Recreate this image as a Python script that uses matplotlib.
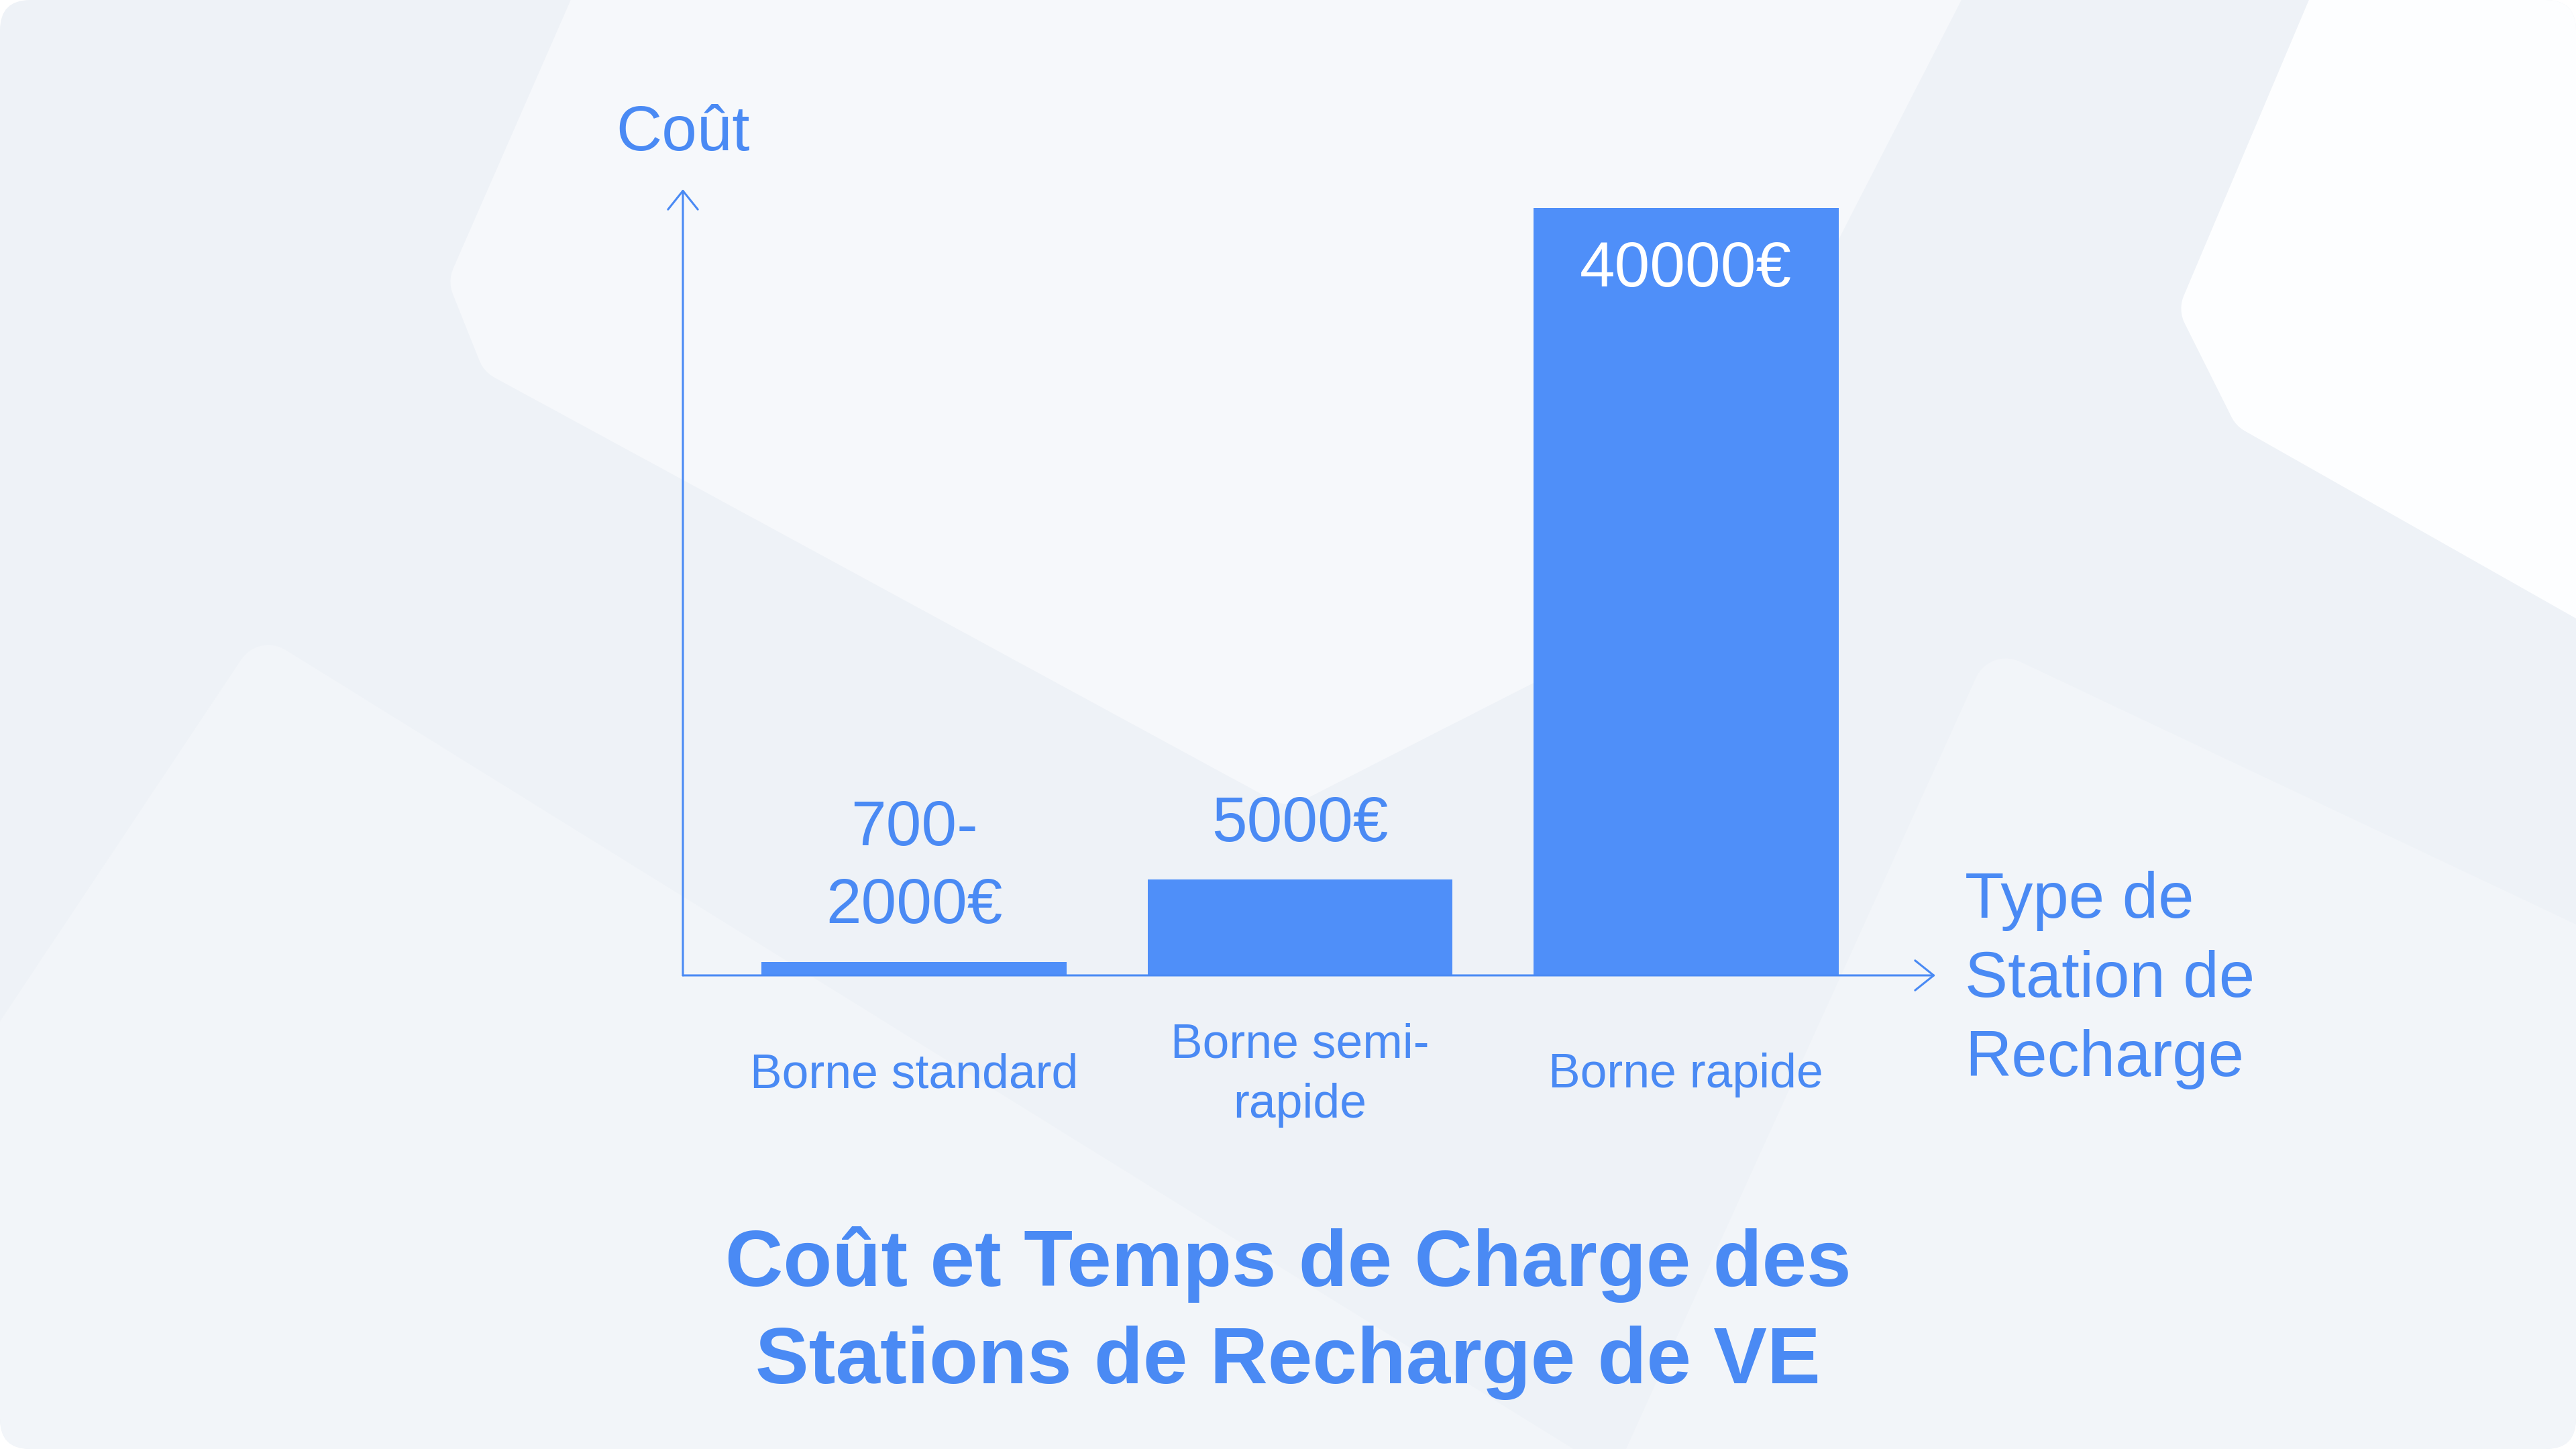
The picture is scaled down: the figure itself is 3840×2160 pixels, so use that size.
import matplotlib
matplotlib.use("Agg")
import matplotlib.pyplot as plt
from matplotlib.patches import FancyBboxPatch, Polygon

plt.rcParams["font.family"] = ["Liberation Sans", "DejaVu Sans"]

# chart data
categories = ["Borne standard", "Borne semi-\nrapide", "Borne rapide"]
costs = [700, 5000, 40000]
cost_labels = ["700-\n2000€", "5000€", "40000€"]
y_title = "Coût"
x_title = "Type de\nStation de\nRecharge"
title = "Coût et Temps de Charge des\nStations de Recharge de VE"

BLUE = "#4A8AF4"
BAR = "#4F8FF9"
BASE = "#EEF2F7"
LIGHT = "#F6F8FB"
W, H = 3840, 2160

fig = plt.figure(figsize=(W / 100, H / 100), dpi=100, facecolor="white")

# soft decorative background (pixel space)
bg = fig.add_axes([0, 0, 1, 1], zorder=-10)
bg.set_xlim(0, W)
bg.set_ylim(H, 0)
bg.axis("off")
card = FancyBboxPatch((0, 0), W, H, boxstyle="round,pad=0,rounding_size=45",
                      fc=BASE, ec="none")
bg.add_patch(card)
shapes = [
    ([(930, -60), (2900, -60), (2700, 330), (2450, 880), (1920, 1150), (760, 520),
      (720, 420)], LIGHT),
    ([(3520, -60), (3900, -60), (3900, 900), (3370, 600), (3300, 460)], "#FDFEFF"),
    ([(-60, 1700), (400, 1010), (2350, 2220), (-60, 2220)], "#F2F5F9"),
    ([(2450, 2220), (2990, 1030), (3900, 1460), (3900, 2220)], "#F2F5F9"),
]
for pts, col in shapes:
    # a fat edge with round joins softens the corners
    p = Polygon(pts, closed=True, fc=col, ec=col, lw=70, joinstyle="round")
    bg.add_patch(p)
    p.set_clip_path(card)

# main chart
ax = fig.add_axes([1018 / W, 1 - 1454 / H, (2885 - 1018) / W, (1454 - 282) / H])
ax.patch.set_alpha(0)
x = list(range(len(categories)))
ax.bar(x, costs, width=0.79, color=BAR, zorder=2)
x0, x1 = -0.599, 2.646
y1 = 40980
ax.set_xlim(x0, x1)
ax.set_ylim(0, y1)
for s in ax.spines.values():
    s.set_visible(False)
ax.set_yticks([])
ax.set_xticks(x, categories)
ax.tick_params(axis="x", length=0, pad=107, labelsize=51.5, labelcolor=BLUE)
for lab in ax.get_xticklabels():
    lab.set_va("center")
    lab.set_linespacing(1.42)

arrow = dict(arrowstyle="->,head_length=0.5,head_width=0.4", color=BLUE, lw=2.2,
             shrinkA=0, shrinkB=0, mutation_scale=40)
ax.annotate("", xy=(x1, 0), xytext=(x0, 0), arrowprops=arrow, annotation_clip=False)
ax.annotate("", xy=(x0, y1), xytext=(x0, 0), arrowprops=arrow, annotation_clip=False)

for i, (v, lab) in enumerate(zip(costs, cost_labels)):
    if v == max(costs):
        ax.annotate(lab, (i, v), xytext=(0, -84), textcoords="offset points",
                    ha="center", va="baseline", color="white", fontsize=68)
    else:
        ax.annotate(lab, (i, v), xytext=(0, 27), textcoords="offset points",
                    ha="center", va="bottom", color=BLUE, fontsize=68, linespacing=1.40)

ax.annotate(y_title, (x0, y1), xytext=(0, 42), textcoords="offset points",
            ha="center", va="baseline", color=BLUE, fontsize=68, annotation_clip=False)
ax.annotate(x_title, (x1, 0), xytext=(32, -5), textcoords="offset points",
            ha="left", va="center", color=BLUE, fontsize=69, linespacing=1.40,
            annotation_clip=False)

fig.text(0.5, 1 - 2062 / H, title, ha="center", va="baseline", color=BLUE,
         fontsize=86, fontweight="bold", linespacing=1.40)

fig.savefig("out.png", dpi=100, facecolor="white")
